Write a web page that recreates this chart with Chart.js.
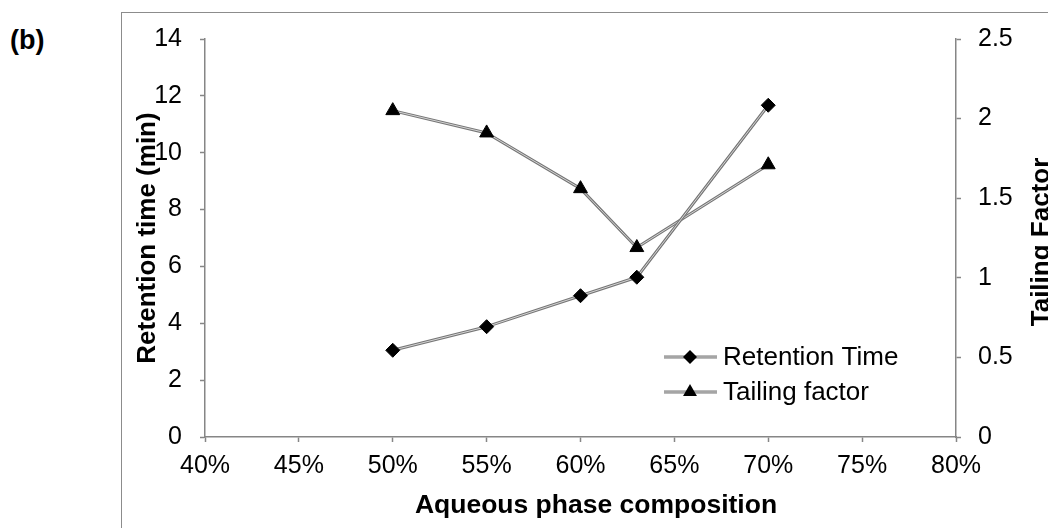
<!DOCTYPE html>
<html lang="en">
<head>
  <meta charset="UTF-8" />
  <title>Retention time and tailing factor</title>
  <script src="https://cdn.jsdelivr.net/npm/chart.js"></script>
  <style>
    body {
      margin: 0;
      width: 1048px;
      height: 528px;
      overflow: hidden;
      background: #fff;
      font-family: 'Liberation Sans', Arial, sans-serif;
      position: relative;
    }
    #frame {
      position: absolute;
      left: 121px;
      top: 12px;
      width: 1000px;
      height: 600px;
      border: 1.5px solid #8c8c8c;
    }
    #panel {
      position: absolute;
      left: 10px;
      top: 25px;
      font-size: 27px;
      font-weight: bold;
      color: #000;
    }
    #wrap {
      position: absolute;
      left: 0;
      top: 0;
      width: 1048px;
      height: 528px;
    }
  </style>
</head>
<body>
  <div id="frame"></div>
  <div id="panel">(b)</div>
  <div id="wrap"><canvas id="chart"></canvas></div>

  <script>
    // aqueous phase composition (%)
    const composition = [50, 55, 60, 63, 70];
    // retention time (min)
    const retentionTime = [3.05, 3.88, 4.97, 5.62, 11.67];
    // tailing factor
    const tailingFactor = [2.05, 1.91, 1.56, 1.19, 1.71];

    const seriesNames = ['Retention Time', 'Tailing factor'];
    const leftTicks = [0, 2, 4, 6, 8, 10, 12, 14];
    const rightTicks = [0, 0.5, 1, 1.5, 2, 2.5];

    const FONT = "'Liberation Sans', Arial, sans-serif";
    const AXIS = '#868686';
    const RAIL = '#767676';   // outer edge of the double line
    const CORE = '#d4d4d4';   // light centre of the double line

    function toPoints(ys) {
      return composition.map((x, i) => ({ x: x, y: ys[i] }));
    }

    // small marker painter for the legend
    function marker(ctx, style, x, y, r) {
      ctx.beginPath();
      if (style === 'rectRot') {
        ctx.moveTo(x - r, y);
        ctx.lineTo(x, y - r);
        ctx.lineTo(x + r, y);
        ctx.lineTo(x, y + r);
      } else {
        ctx.moveTo(x, y - r);
        ctx.lineTo(x + r * 0.866, y + r / 2);
        ctx.lineTo(x - r * 0.866, y + r / 2);
      }
      ctx.closePath();
      ctx.fill();
    }

    // wide dark stroke under each series so the thin light line reads as a double line
    const rails = {
      id: 'rails',
      beforeDatasetDraw(chart, args) {
        const pts = args.meta.data;
        const ctx = chart.ctx;
        ctx.save();
        ctx.strokeStyle = RAIL;
        ctx.lineWidth = 3;
        ctx.lineJoin = 'round';
        ctx.beginPath();
        pts.forEach((p, i) => (i ? ctx.lineTo(p.x, p.y) : ctx.moveTo(p.x, p.y)));
        ctx.stroke();
        ctx.restore();
      }
    };

    // legend, x title and the right-hand axis title
    const extras = {
      id: 'extras',
      afterDraw(chart) {
        const ctx = chart.ctx;
        ctx.save();
        chart.data.datasets.forEach((ds, i) => {
          const y = 357 + i * 35;
          ctx.lineCap = 'butt';
          ctx.strokeStyle = RAIL;
          ctx.lineWidth = 3;
          ctx.beginPath();
          ctx.moveTo(664, y);
          ctx.lineTo(717, y);
          ctx.stroke();
          ctx.strokeStyle = CORE;
          ctx.lineWidth = 1;
          ctx.stroke();
          ctx.fillStyle = '#000';
          marker(ctx, ds.pointStyle, 690, y, ds.pointRadius);
          ctx.font = '26px ' + FONT;
          ctx.textAlign = 'left';
          ctx.textBaseline = 'middle';
          ctx.fillText(ds.label, 723, y + 1);
        });

        ctx.font = 'bold 26.5px ' + FONT;
        ctx.textAlign = 'center';
        ctx.textBaseline = 'middle';
        ctx.fillText('Aqueous phase composition', 596, 506);

        ctx.translate(1049, 242);
        ctx.rotate(-Math.PI / 2);
        ctx.font = 'bold 26px ' + FONT;
        ctx.textBaseline = 'alphabetic';
        ctx.fillText('Tailing Factor', 0, 0);
        ctx.restore();
      }
    };

    const axisGrid = {
      drawOnChartArea: false,
      color: AXIS,
      tickColor: AXIS,
      tickLength: 5,
      tickWidth: 1.5
    };

    const lineStyle = {
      borderColor: CORE,
      borderWidth: 1,
      pointBackgroundColor: '#000',
      pointBorderColor: '#000',
      pointBorderWidth: 1,
      tension: 0
    };

    new Chart(document.getElementById('chart'), {
      type: 'line',
      data: {
        datasets: [Object.assign({
          label: seriesNames[0],
          data: toPoints(retentionTime),
          yAxisID: 'y',
          pointStyle: 'rectRot',
          pointRadius: 7
        }, lineStyle), Object.assign({
          label: seriesNames[1],
          data: toPoints(tailingFactor),
          yAxisID: 'y1',
          pointStyle: 'triangle',
          pointRadius: 8
        }, lineStyle)]
      },
      options: {
        responsive: true,
        maintainAspectRatio: false,
        animation: false,
        layout: { padding: { top: 39, left: 0, right: 0, bottom: 0 } },
        plugins: {
          legend: { display: false },
          tooltip: { enabled: false }
        },
        scales: {
          x: {
            type: 'linear',
            min: 40,
            max: 80,
            afterFit(scale) { scale.height = 91; },
            border: { color: AXIS, width: 1.5 },
            grid: axisGrid,
            ticks: {
              stepSize: 5,
              padding: 9,
              color: '#000',
              font: { family: FONT, size: 25 },
              callback: v => v + '%'
            }
          },
          y: {
            position: 'left',
            min: 0,
            max: 14,
            afterFit(scale) { scale.width = 205; },
            afterBuildTicks(scale) { scale.ticks = leftTicks.map(v => ({ value: v })); },
            border: { color: AXIS, width: 1.5 },
            grid: axisGrid,
            ticks: {
              padding: 18,
              color: '#000',
              font: { family: FONT, size: 25 }
            },
            title: {
              display: true,
              text: 'Retention time (min)',
              color: '#000',
              font: { family: FONT, size: 26, weight: 'bold' },
              padding: { top: 132, bottom: 0 }
            }
          },
          y1: {
            position: 'right',
            min: 0,
            max: 2.5,
            afterFit(scale) { scale.width = 92; },
            afterBuildTicks(scale) { scale.ticks = rightTicks.map(v => ({ value: v })); },
            border: { color: AXIS, width: 1.5 },
            grid: axisGrid,
            ticks: {
              padding: 17,
              color: '#000',
              font: { family: FONT, size: 25 },
              callback: v => String(v)
            }
          }
        }
      },
      plugins: [rails, extras]
    });
  </script>
</body>
</html>
